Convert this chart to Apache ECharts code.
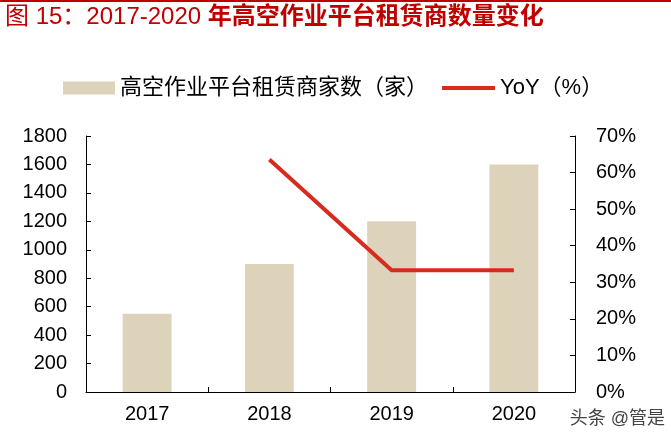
<!DOCTYPE html>
<html><head><meta charset="utf-8">
<script src="https://cdn.jsdelivr.net/npm/echarts@6/dist/echarts.min.js"></script>
<style>html,body{margin:0;padding:0;background:#fff}#c{width:671px;height:443px}</style>
</head><body><div id="c"></div>
<script>
const categories = ['2017','2018','2019','2020'];
const dealers = [550, 900, 1200, 1600];
const yoy = [null, 63.6, 33.3, 33.3];
const leftTicks = [0, 1800, 200];
const rightTicks = [0, 70, 10];

const FONT_NUM = '"Liberation Sans", Arial, sans-serif';
const FONT_CN = '"Liberation Sans", "Noto Sans CJK SC", sans-serif';
const chart = echarts.init(document.getElementById('c'));
chart.setOption({
  animation: false,
  backgroundColor: '#fff',
  graphic: [
    { type: 'rect', shape: { x: 0, y: 0, width: 671, height: 2 }, style: { fill: '#c00000' } },
    { type: 'text', left: 5, top: 5, style: {
        text: '{a|图 15：2017-2020 }{b|年高空作业平台租赁商数量变化}',
        rich: {
          a: { fill: '#c00000', fontSize: 24, fontFamily: FONT_CN },
          b: { fill: '#c00000', fontSize: 24, fontWeight: 'bold', fontFamily: FONT_CN }
        } } },
    { type: 'text', right: 6, top: 410, style: { text: '头条 @管是', fill: '#444', fontSize: 18, fontFamily: FONT_CN } }
  ],
  legend: [
    { left: 63, top: 77, padding: 0, itemWidth: 52, itemHeight: 13, icon: 'rect',
      textStyle: { fontSize: 22, color: '#000', fontFamily: FONT_CN },
      data: ['高空作业平台租赁商家数（家）'] },
    { left: 442, top: 77, padding: 0, itemWidth: 53, itemHeight: 4, icon: 'rect',
      textStyle: { fontSize: 22, color: '#000', fontFamily: FONT_CN },
      data: ['YoY（%）'] }
  ],
  grid: { left: 86, right: 96, top: 136, bottom: 51 },
  xAxis: {
    type: 'category', data: categories,
    axisLine: { lineStyle: { color: '#000', width: 1 } },
    axisTick: { show: true, inside: true, length: 5, lineStyle: { color: '#000' } },
    axisLabel: { color: '#000', fontSize: 20, fontFamily: FONT_NUM, margin: 12 }
  },
  yAxis: [
    { type: 'value', min: leftTicks[0], max: leftTicks[1], interval: leftTicks[2],
      axisLine: { show: true, lineStyle: { color: '#000' } },
      axisTick: { show: true, inside: true, length: 5, lineStyle: { color: '#000' } },
      splitLine: { show: false },
      axisLabel: { color: '#000', fontSize: 20, fontFamily: FONT_NUM, margin: 19, formatter: v => String(v) } },
    { type: 'value', min: rightTicks[0], max: rightTicks[1], interval: rightTicks[2], position: 'right',
      axisLine: { show: true, lineStyle: { color: '#000' } },
      axisTick: { show: true, inside: true, length: 5, lineStyle: { color: '#000' } },
      splitLine: { show: false },
      axisLabel: { color: '#000', fontSize: 20, fontFamily: FONT_NUM, margin: 21, formatter: '{value}%' } }
  ],
  series: [
    { name: '高空作业平台租赁商家数（家）', type: 'bar', data: dealers, barWidth: '40%',
      itemStyle: { color: '#ddd3bb' } },
    { name: 'YoY（%）', type: 'line', yAxisIndex: 1, data: yoy, symbol: 'none',
      lineStyle: { color: '#d92a1e', width: 4 }, itemStyle: { color: '#d92a1e' } }
  ]
});
</script></body></html>
